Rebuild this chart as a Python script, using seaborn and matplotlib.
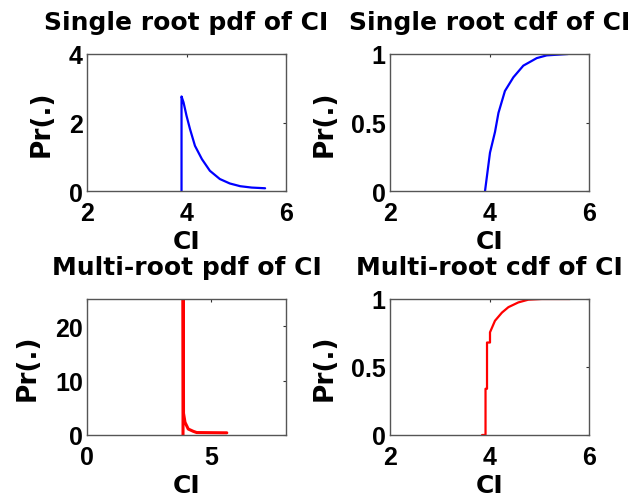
import matplotlib
matplotlib.use("Agg")
import matplotlib.pyplot as plt
import seaborn as sns
import pandas as pd

# ---- data ----
single_pdf_x = [3.90, 3.90, 3.94, 4.00, 4.07, 4.17, 4.31, 4.47, 4.67, 4.87, 5.08, 5.31, 5.58]
single_pdf_y = [0.00, 2.76, 2.59, 2.20, 1.81, 1.32, 0.93, 0.59, 0.35, 0.22, 0.14, 0.10, 0.08]

single_cdf_x = [3.91, 4.01, 4.11, 4.18, 4.31, 4.48, 4.68, 4.95, 5.15, 5.58]
single_cdf_y = [0.00, 0.28, 0.43, 0.57, 0.73, 0.83, 0.915, 0.97, 0.99, 1.00]

multi_pdf_x = [3.86, 3.86, 3.88, 3.94, 4.07, 4.27, 4.41, 5.62]
multi_pdf_y = [0.00, 60.0, 4.00, 2.33, 1.10, 0.68, 0.45, 0.40]

multi_cdf_x = [3.85, 3.92, 3.92, 3.95, 3.95, 4.01, 4.01, 4.11, 4.25, 4.38, 4.58, 4.78, 5.05, 5.62]
multi_cdf_y = [0.00, 0.00, 0.34, 0.34, 0.68, 0.68, 0.755, 0.84, 0.90, 0.94, 0.975, 0.995, 1.00, 1.00]

titles = ["Single root pdf of CI", "Single root cdf of CI",
          "Multi-root pdf of CI", "Multi-root cdf of CI"]
xlabel = "CI"
ylabel = "Pr(.)"

sns.set_style("white")
plt.rcParams['font.family'] = ['Liberation Sans', 'DejaVu Sans']
plt.rcParams['font.weight'] = 'bold'
plt.rcParams['text.color'] = 'black'
plt.rcParams['axes.labelcolor'] = 'black'
plt.rcParams['xtick.color'] = 'black'
plt.rcParams['ytick.color'] = 'black'

fig = plt.figure(figsize=(6.32, 5.02), dpi=100)
W, H = 632, 502

def make_ax(x0, y0, x1, y1):
    return fig.add_axes([x0 / W, 1 - y1 / H, (x1 - x0) / W, (y1 - y0) / H])

axes = [make_ax(87, 55, 286, 192), make_ax(390, 55, 589, 192),
        make_ax(87, 300, 286, 436), make_ax(390, 300, 589, 436)]

series = [
    (single_pdf_x, single_pdf_y, "#0000ff", 1.6, (2, 6), [2, 4, 6], (0, 4), [0, 2, 4], ["0", "2", "4"]),
    (single_cdf_x, single_cdf_y, "#0000ff", 1.6, (2, 6), [2, 4, 6], (0, 1), [0, 0.5, 1], ["0", "0.5", "1"]),
    (multi_pdf_x, multi_pdf_y, "#ff0000", 2.2, (0, 8), [0, 5], (0, 25), [0, 10, 20], ["0", "10", "20"]),
    (multi_cdf_x, multi_cdf_y, "#ff0000", 1.6, (2, 6), [2, 4, 6], (0, 1), [0, 0.5, 1], ["0", "0.5", "1"]),
]

label_font = {"family": ["DejaVu Sans"], "weight": "bold", "color": "black"}

for ax, (xs, ys, col, lw, xl, xt, yl, yt, ytl), title in zip(axes, series, titles):
    df = pd.DataFrame({"x": xs, "y": ys})
    sns.lineplot(data=df, x="x", y="y", ax=ax, color=col, linewidth=lw,
                 estimator=None, sort=False)
    ax.set_xlim(*xl)
    ax.set_ylim(*yl)
    ax.set_xticks(xt)
    ax.set_xticklabels([str(v) for v in xt])
    ax.set_yticks(yt)
    ax.set_yticklabels(ytl)
    ax.tick_params(direction="in", length=2.5, width=0.8, color="#333333",
                   top=True, right=True, labelsize=18, labelcolor="black")
    ax.tick_params(axis="x", pad=7)
    ax.tick_params(axis="y", pad=3)
    for s in ax.spines.values():
        s.set_visible(True)
        s.set_color("#555555")
        s.set_linewidth(1.0)
    ax.set_title(title, fontsize=18, pad=18, **label_font)
    ax.set_xlabel(xlabel, fontsize=18, labelpad=3, **label_font)
    ax.set_ylabel(ylabel, fontsize=19, labelpad=10, **label_font)
    for lab in ax.get_xticklabels() + ax.get_yticklabels():
        lab.set_fontweight("bold")

fig.savefig("out.png", dpi=100, facecolor="white")
